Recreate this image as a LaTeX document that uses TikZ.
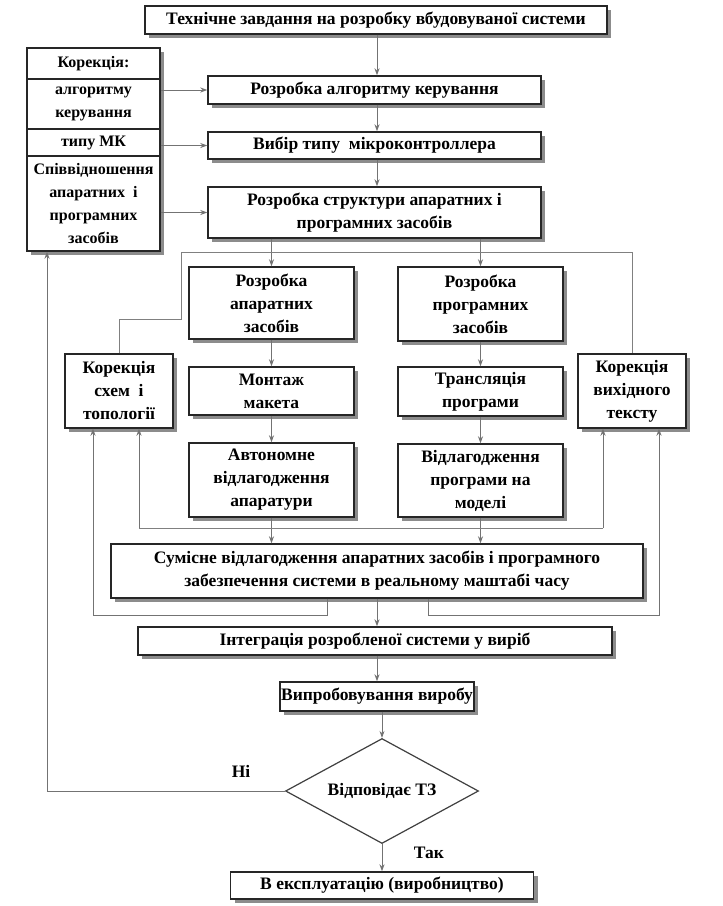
\documentclass[tikz,border=0pt]{standalone}
\usepackage{fontspec}
\setmainfont{Liberation Serif}
\usetikzlibrary{shapes.geometric,shadows,arrows.meta,calc}
\newcommand\fs{\fontsize{17.5}{23}\selectfont\bfseries}
\newcommand\fsl{\fontsize{16}{23}\selectfont\bfseries}
\begin{document}
\begin{tikzpicture}[x=1pt,y=-1pt,
 box/.style={draw=black!85, line width=1.4pt, fill=white, align=center, inner sep=0pt, font=\fs,
   drop shadow={shadow xshift=4pt, shadow yshift=-4pt, fill=black!45, opacity=1}},
 lbox/.style={box, font=\fsl},
 ln/.style={draw=black!50, line width=1pt},
 arr/.style={ln, -{Stealth[length=7pt,width=5pt]}, black!55},
 lbl/.style={font=\fs, inner sep=0pt},
]
\fill[white] (0,0) rectangle (723,906);
\path[use as bounding box] (0,0) rectangle (723,906);

% main column
\node[box, minimum width=462, minimum height=28] (t1) at (376,20) {Технічне завдання на розробку вбудовуваної системи};
\node[box, minimum width=333, minimum height=28] (a1) at (374.5,90) {Розробка алгоритму керування};
\node[box, minimum width=333, minimum height=27] (a2) at (374.5,145.5) {Вибір типу \ мікроконтроллера};
\node[box, minimum width=333, minimum height=51] (a3) at (374.5,212.5) {Розробка структури апаратних і\\програмних засобів};

% left correction column
\node[lbox, minimum width=133, minimum height=31] (k0) at (93.5,63.5) {Корекція:};
\node[lbox, minimum width=133, minimum height=50] (k1) at (93.5,104) {алгоритму\\керування};
\node[lbox, minimum width=133, minimum height=27] (k2) at (93.5,142.5) {типу МК};
\node[lbox, minimum width=133, minimum height=95] (k3) at (93.5,203.5) {Співвідношення\\апаратних \ і\\програмних\\засобів};

% hardware / software branches
\node[box, minimum width=165, minimum height=72] (hw1) at (271.5,303) {Розробка\\апаратних\\засобів};
\node[box, minimum width=165, minimum height=74] (sw1) at (480.5,304) {Розробка\\програмних\\засобів};
\node[box, minimum width=108, minimum height=74] (kh) at (119,391) {Корекція\\схем \ і\\топології};
\node[box, minimum width=165, minimum height=48] (hw2) at (271.5,391) {Монтаж\\макета};
\node[box, minimum width=165, minimum height=49] (sw2) at (480.5,391.5) {Трансляція\\програми};
\node[box, minimum width=108, minimum height=74] (ks) at (632,391) {Корекція\\вихідного\\тексту};
\node[box, minimum width=165, minimum height=74] (hw3) at (271.5,480) {Автономне\\відлагодження\\апаратури};
\node[box, minimum width=165, minimum height=73] (sw3) at (480.5,480.5) {Відлагодження\\програми на\\моделі};

\node[box, minimum width=532, minimum height=54] (joint) at (377,571) {Сумісне відлагодження апаратних засобів і програмного\\забезпечення системи в реальному маштабі часу};
\node[box, minimum width=474, minimum height=28] (integ) at (375,641) {Інтеграція розробленої системи у виріб};
\node[box, minimum width=194, minimum height=29] (test) at (377,696.5) {Випробовування виробу};
\node[draw=black!75, line width=1.2pt, diamond, shape aspect=1.84, minimum width=193, minimum height=105, inner sep=0pt, font=\fs] (dia) at (382,791) {Відповідає ТЗ};
\node[box, minimum width=303, minimum height=27] (fin) at (382,885.5) {В експлуатацію (виробництво)};

\node[lbl] (ni) at (241,771) {Ні};
\node[lbl] (tak) at (429,853) {Так};

% helper coordinates
\coordinate (spl) at (181,252);
\coordinate (kneeL) at (181,319);
\coordinate (fbL) at (139,528);
\coordinate (fbR) at (603,528);
\coordinate (jL) at (327,615);
\coordinate (jR) at (428,615);
\coordinate (oL) at (93,615);
\coordinate (oR) at (659,615);
\coordinate (back) at (47,791);

% main flow
\draw[arr] (t1.south -| 377,0) -- (a1.north -| 377,0);
\draw[arr] (a1.south -| 377,0) -- (a2.north -| 377,0);
\draw[arr] (a2.south -| 377,0) -- (a3.north -| 377,0);
\draw[arr] (k1.east |- a1.west) -- (a1.west);
\draw[arr] (k2.east |- a2.west) -- (a2.west);
\draw[arr] (k3.east |- a3.west) -- (a3.west);

% split into branches
\draw[arr] (a3.south -| hw1.north) -- (hw1.north);
\draw[arr] (a3.south -| sw1.north) -- (sw1.north);
\draw[ln] (kh.north) |- (kneeL) -- (spl) -- (spl -| ks.north) -- (ks.north);

\draw[arr] (hw1) -- (hw2);
\draw[arr] (hw2) -- (hw3);
\draw[arr] (sw1) -- (sw2);
\draw[arr] (sw2) -- (sw3);

\draw[arr] (hw3.south) -- (hw3.south |- joint.north);
\draw[arr] (sw3.south) -- (sw3.south |- joint.north);
\draw[ln] (fbL) -- (fbR);
\draw[arr] (fbL) -- (fbL |- kh.south);
\draw[arr] (fbR) -- (fbR |- ks.south);

\draw[arr] (jL |- joint.south) -- (jL) -- (oL) -- (oL |- kh.south);
\draw[arr] (jR |- joint.south) -- (jR) -- (oR) -- (oR |- ks.south);

\draw[arr] (joint.south -| 377,0) -- (integ.north -| 377,0);
\draw[arr] (integ.south -| 377,0) -- (test.north -| 377,0);
\draw[arr] (test.south -| dia.north) -- (dia.north);
\draw[arr] (dia.south) -- (fin.north -| dia.south);
\draw[arr] (dia.west) -- (back) -- (back |- k3.south);
\end{tikzpicture}
\end{document}
